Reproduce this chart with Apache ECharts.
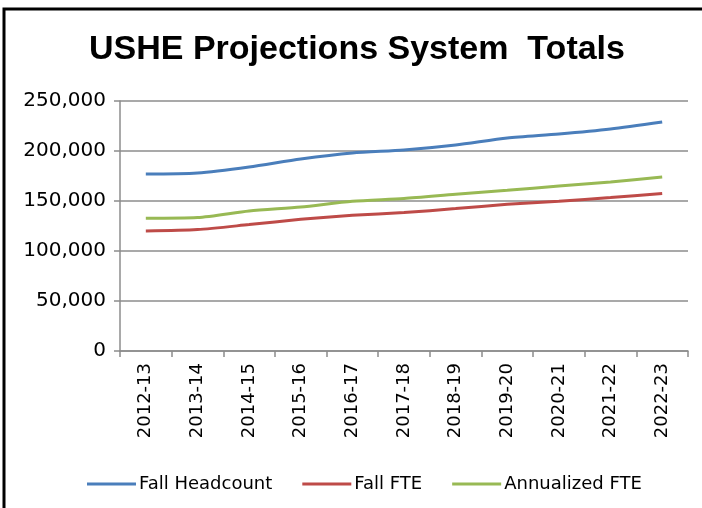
<!DOCTYPE html>
<html>
<head>
<meta charset="utf-8">
<style>
  html, body { margin: 0; padding: 0; background: #fff; }
  #chart { width: 702px; height: 508px; }
</style>
<script src="https://cdn.jsdelivr.net/npm/echarts@6/dist/echarts.min.js"></script>
</head>
<body>
<div id="chart"></div>
<script>
  // USHE enrollment projections (thousands precision)
  const YEARS = ["2012-13", "2013-14", "2014-15", "2015-16", "2016-17", "2017-18",
    "2018-19", "2019-20", "2020-21", "2021-22", "2022-23"];
  const FALL_HEADCOUNT = [177000, 178000, 184000, 192000, 198000, 201000,
    206000, 213000, 217000, 222000, 229000];
  const FALL_FTE = [120000, 121400, 126400, 131700, 135700, 138400,
    142400, 146700, 149700, 153400, 157400];
  const ANNUALIZED_FTE = [132700, 133400, 140000, 144000, 149700, 152400,
    156700, 160700, 165000, 169000, 174000];

  const BLUE = "#4a7ebb";
  const RED = "#be4b48";
  const GREEN = "#98b954";
  const GRID = "#8c8c8c";
  const FONT = "DejaVu Sans";

  const inst = echarts.init(document.getElementById("chart"), null, { renderer: "canvas" });

  function line(name, data, color) {
    return {
      name, type: "line", data, smooth: 0.25, showSymbol: false,
      lineStyle: { color, width: 3 }, itemStyle: { color },
    };
  }

  inst.setOption({
    animation: false,
    graphic: [{
      type: "rect", silent: true,
      shape: { x: 4, y: 9, width: 760, height: 560 },
      style: { fill: "none", stroke: "#000", lineWidth: 3 },
    }],
    title: {
      text: "USHE Projections System  Totals",
      left: 84, top: 28,
      textStyle: { fontFamily: "Liberation Sans", fontWeight: "bold", fontSize: 34, color: "#000" },
    },
    grid: { left: 120, right: 14, top: 101, bottom: 157, containLabel: false },
    legend: {
      bottom: 10, left: 82,
      itemWidth: 49, itemHeight: 3, itemGap: 30,
      icon: "rect",
      textStyle: { fontFamily: FONT, fontSize: 18, color: "#000", padding: [0, 0, 0, -2] },
      data: ["Fall Headcount", "Fall FTE", "Annualized FTE"],
    },
    xAxis: {
      type: "category", data: YEARS, boundaryGap: true,
      axisLine: { lineStyle: { color: GRID, width: 1.5 } },
      axisTick: { show: true, length: 6, lineStyle: { color: GRID, width: 1.5 } },
      axisLabel: { rotate: 90, fontFamily: FONT, fontSize: 18, color: "#000", margin: 12, interval: 0 },
    },
    yAxis: {
      type: "value", min: 0, max: 250000, interval: 50000,
      axisLine: { show: true, lineStyle: { color: GRID, width: 1.5 } },
      axisTick: { show: true, length: 6, lineStyle: { color: GRID, width: 1.5 } },
      axisLabel: {
        fontFamily: FONT, fontSize: 20, color: "#000", margin: 14,
        formatter: (v) => v.toLocaleString("en-US"),
      },
      splitLine: { lineStyle: { color: GRID, width: 1.5 } },
    },
    series: [
      line("Fall Headcount", FALL_HEADCOUNT, BLUE),
      line("Fall FTE", FALL_FTE, RED),
      line("Annualized FTE", ANNUALIZED_FTE, GREEN),
    ],
  });
</script>
</body>
</html>
